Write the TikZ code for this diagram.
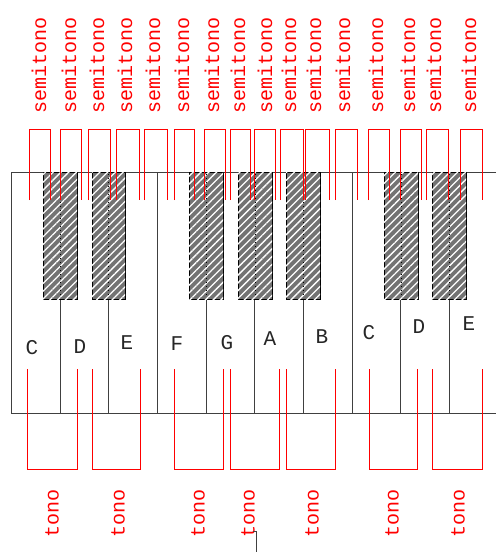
\documentclass[tikz,border=0pt]{standalone}
\usepackage{fontspec}
\newfontfamily\labfont{Liberation Mono}
\usetikzlibrary{patterns.meta}
\begin{document}
\begin{tikzpicture}[x=1pt,y=-1pt,
  keyline/.style={draw=black!75, line width=0.9pt},
  bk/.style={draw=black, line width=0.8pt, fill=black!55,
    postaction={pattern={Lines[angle=45,distance=5.5pt,line width=1.3pt]}, pattern color=white}},
  bkmid/.style={draw=black, line width=0.7pt, dash pattern=on 1pt off 3pt},
  br/.style={draw=red, line width=0.9pt},
  semi/.style={text=red, font=\labfont\fontsize{20}{20}\selectfont, rotate=90, inner sep=0pt},
  note/.style={font=\labfont\fontsize{21}{21}\selectfont, text=black!85, inner sep=0pt}]
\useasboundingbox (0,0) rectangle (496,552);

% keyboard outline
\coordinate (kbTL) at (11,172);
\coordinate (kbBL) at (11,413);
\coordinate (kbTR) at (496,172);
\coordinate (kbBR) at (496,413);
\draw[keyline] (kbTR) -- (kbTL) -- (kbBL) -- (kbBR);
% full dividers (E-F, B-C)
\foreach \x in {157,352} \draw[keyline] (\x,172) -- (\x,413);
% dividers under black keys
\foreach \x in {60,108,206,254,303,400,449} \draw[keyline] (\x,299) -- (\x,413);

% black keys
\foreach \a/\b [count=\i] in {43/77,92/125,189/223,238/272,286/320,384/418,432/466} {
  \draw[bk] (\a,172) rectangle (\b,299);
  \draw[bkmid] ({(\a+\b)/2},174) -- ({(\a+\b)/2},298);
}

% semitone brackets
\foreach \a/\b in {29/50,60/81,88/110,116/139,144/167,174/194,204/225,230/250,254/275,280/303,305/329,335/357,368/389,400/421,426/448,460/482}
  \draw[br] (\a,200) -- (\a,129) -- (\b,129) -- (\b,200);

% semitone labels
\foreach \x [count=\i] in {39,69,97,125,153,182,212,238,265,289,314,343,376,408,434,469}
  \node[semi] (st\i) at (\x,65) {semitono};

% tone brackets
\foreach \a/\b in {27/77,92/140,174/223,230/279,286/335,369/417,432/482}
  \draw[br] (\a,369) -- (\a,469) -- (\b,469) -- (\b,369);

% tone labels
\foreach \x [count=\i] in {52,118,198,248,312,392,458}
  \node[semi] (tn\i) at (\x,513) {tono};

% note names
\node[note] (n1) at (32,348) {C};
\node[note] (n2) at (80,347) {D};
\node[note] (n3) at (127,343) {E};
\node[note] (n4) at (177,344) {F};
\node[note] (n5) at (227,343) {G};
\node[note] (n6) at (270,339) {A};
\node[note] (n7) at (322,337) {B};
\node[note] (n8) at (369,333) {C};
\node[note] (n9) at (419,327) {D};
\node[note] (n10) at (469,324) {E};

% small stray mark at bottom
\draw[keyline] (253,531) -- (256,531) -- (256,552);
\end{tikzpicture}
\end{document}
